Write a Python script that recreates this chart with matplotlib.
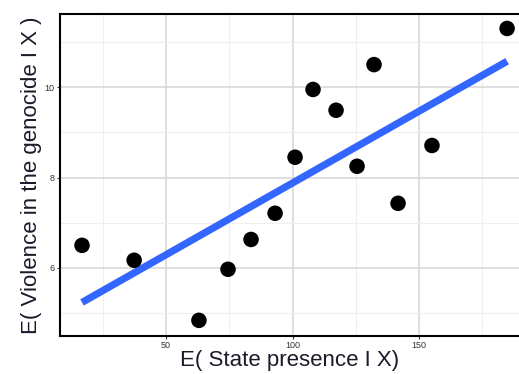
import numpy as np
import matplotlib
matplotlib.use("Agg")
import matplotlib.pyplot as plt

state_presence = [16.8, 37.4, 63.0, 74.5, 83.6, 93.1, 101.0, 108.1, 117.2, 125.5, 132.2, 141.7, 155.1, 184.8]
violence = [6.50, 6.17, 4.84, 5.97, 6.63, 7.21, 8.45, 9.95, 9.49, 8.25, 10.50, 7.43, 8.71, 11.30]
x_ticks = [50, 100, 150]
y_ticks = [6, 8, 10]

plt.rcParams['font.family'] = ['Liberation Sans', 'DejaVu Sans']

fig = plt.figure(figsize=(5.19, 3.74), dpi=100)
ax = fig.add_axes([60/519, 1-335.7/374, 1-60/519, (335.7-14)/374])

x = np.array(state_presence)
y = np.array(violence)
b, a = np.polyfit(x, y, 1)
xl = np.array([x.min(), x.max()])
ax.plot(xl, a + b*xl, color='#3366FF', lw=5.2, solid_capstyle='butt', zorder=3)
ax.scatter(x, y, s=125, color='black', zorder=4, edgecolors='none')

ax.set_xlim(8.1, 189.5)
ax.set_ylim(4.50, 11.62)
ax.set_xticks(x_ticks)
ax.set_yticks(y_ticks)
ax.set_xticks([25, 75, 125, 175], minor=True)
ax.set_yticks([5, 7, 9, 11], minor=True)
ax.grid(which='major', color='#d6d6d6', lw=1.1)
ax.grid(which='minor', color='#efefef', lw=0.8)
ax.set_axisbelow(True)
ax.tick_params(which='major', labelsize=6.5, length=2.5, width=0.8, colors='#333333', pad=1.5)
ax.tick_params(which='minor', length=0)
for s in ['left', 'bottom', 'top']:
    ax.spines[s].set_linewidth(1.5)
    ax.spines[s].set_color('black')
ax.spines['right'].set_visible(False)

ax.set_xlabel('E( State presence I X)', fontsize=16, color='#1a1a2a', labelpad=0)
ax.set_ylabel('E( Violence in the genocide I X )', fontsize=16, color='#1a1a2a', labelpad=2)

fig.savefig('out.png', dpi=100)
